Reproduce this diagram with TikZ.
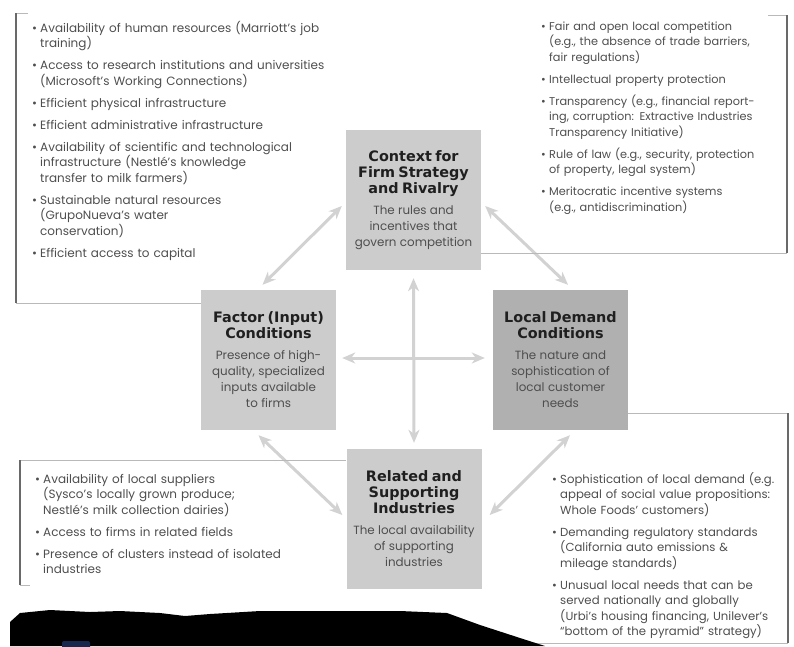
\documentclass[tikz,border=0pt]{standalone}
\usepackage{fontspec}
\setmainfont{Poppins}
\newfontfamily\headfont{DejaVu Sans}
\definecolor{boxgray}{RGB}{204,204,204}
\definecolor{boxdark}{RGB}{176,176,176}
\definecolor{arrowgray}{RGB}{210,210,210}
\definecolor{textgray}{RGB}{78,78,78}
\definecolor{framegray}{RGB}{105,105,105}
\definecolor{rulegray}{RGB}{185,185,185}
\definecolor{scanblue}{RGB}{22,40,78}
\usetikzlibrary{calc}
\usetikzlibrary{positioning}
\usetikzlibrary{arrows.meta}

\newcommand{\boxtitle}{\headfont\bfseries\fontsize{14.4}{16}\selectfont\color{black!88}}
\newcommand{\boxbody}{\fontsize{11.9}{16}\selectfont\color{textgray}}
\newcommand{\litem}[1]{\par\hangindent=8pt\hangafter=1\noindent\makebox[8pt][l]{\textbullet}#1\par}

\tikzset{
  forcebox/.style={fill=boxgray, minimum width=135pt, minimum height=140pt,
    text width=132pt, align=center, inner sep=0pt},
  bulletlist/.style={anchor=north west, inner sep=0pt, text width=#1, align=left,
    font=\fontsize{12}{15.5}\selectfont\setlength{\parskip}{6.5pt}, text=textgray},
  twoway/.style={{Stealth[length=13pt,width=11pt,inset=4pt]}-{Stealth[length=13pt,width=11pt,inset=4pt]},
    line width=3pt, draw=arrowgray},
  sideline/.style={draw=framegray, line width=2pt},
  thinline/.style={draw=rulegray, line width=0.8pt},
}

\begin{document}
\begin{tikzpicture}[x=1pt, y=-1pt]
  \useasboundingbox (0,0) rectangle (794,646);

  % the four conditions
  \node [forcebox] (context) at (413.5,200) {{\boxtitle Context for\\Firm Strategy\\and Rivalry\par}\vspace{5pt}
    {\boxbody The rules and\\incentives that\\govern competition\par}};
  \node [forcebox] (factor) at (268.5,360) {{\boxtitle Factor (Input)\\Conditions\par}\vspace{5pt}
    {\boxbody Presence of high-\\quality, specialized\\inputs available\\to firms\par}};
  \node [forcebox, fill=boxdark] (local) at (560.5,360) {{\boxtitle Local Demand\\Conditions\par}\vspace{5pt}
    {\boxbody The nature and\\sophistication of\\local customer\\needs\par}};
  \node [forcebox] (related) at (414,519) {{\boxtitle Related and\\Supporting\\Industries\par}\vspace{5pt}
    {\boxbody The local availability\\of supporting\\industries\par}};

  \draw [twoway] ($(factor.north)+(-6,-5)$) -- ($(context.west)+(-4,6)$);
  \draw [twoway] ($(context.east)+(4,6)$) -- ($(local.north)+(7.5,-5)$);
  \draw [twoway] ($(context.south)+(0,8)$) -- ($(related.north)+(0,-6)$);
  \draw [twoway] ($(factor.east)+(6,-2)$) -- ($(local.west)+(-8,-2)$);
  \draw [twoway] ($(factor.south)+(-10,5)$) -- ($(related.west)+(-4,-4)$);
  \draw [twoway] ($(related.east)+(8,-4)$) -- ($(local.south)+(9.5,5)$);

  % callouts
  \coordinate (tltop) at (16,13);
  \coordinate (tlbottom) at (16,303);
  \coordinate (trtop) at (787,15);
  \coordinate (trbottom) at (787,253);
  \coordinate (bltop) at (20,460);
  \coordinate (blbottom) at (20,585);
  \coordinate (brtop) at (788,413);
  \coordinate (brbottom) at (788,643);

  \draw [thinline] (tltop) -- ++(12,0);
  \draw [thinline] (tlbottom) -- (tlbottom -| factor.west);
  \draw [sideline] (tltop) -- (tlbottom);
  \draw [thinline] (trtop) -- ++(-19,0);
  \draw [thinline] (trbottom) -- (trbottom -| context.east);
  \draw [sideline] (trtop) -- (trbottom);
  \draw [thinline] (bltop) -- (bltop -| related.west);
  \draw [thinline] (blbottom) -- ++(10,0);
  \draw [sideline] (bltop) -- (blbottom);
  \draw [thinline] (brtop) -- (brtop -| local.east);
  \draw [thinline] (brbottom) -- ++(-272,0);
  \draw [sideline] (brtop) -- (brbottom);

  \node [bulletlist=330pt] (factorlist) at (32,10) {%
    \litem{Availability of human resources (Marriott's job\newline training)}
    \litem{Access to research institutions and universities\newline (Microsoft's Working Connections)}
    \litem{Efficient physical infrastructure}
    \litem{Efficient administrative infrastructure}
    \litem{Availability of scientific and technological\newline infrastructure (Nestlé's knowledge\newline transfer to milk farmers)}
    \litem{Sustainable natural resources\newline (GrupoNueva's water\newline conservation)}
    \litem{Efficient access to capital}};
  \node [bulletlist=250pt, font=\fontsize{11.3}{15.5}\selectfont\setlength{\parskip}{6.5pt}] (contextlist) at (541,8) {%
    \litem{Fair and open local competition\newline (e.g., the absence of trade barriers,\newline fair regulations)}
    \litem{Intellectual property protection}
    \litem{Transparency (e.g., financial report-\newline ing, corruption: Extractive Industries\newline Transparency Initiative)}
    \litem{Rule of law (e.g., security, protection\newline of property, legal system)}
    \litem{Meritocratic incentive systems\newline (e.g., antidiscrimination)}};
  \node [bulletlist=300pt] (relatedlist) at (35,461) {%
    \litem{Availability of local suppliers\newline (Sysco's locally grown produce;\newline Nestlé's milk collection dairies)}
    \litem{Access to firms in related fields}
    \litem{Presence of clusters instead of isolated\newline industries}};
  \node [bulletlist=250pt, font=\fontsize{11.7}{15.5}\selectfont\setlength{\parskip}{6.5pt}] (locallist) at (552,461) {%
    \litem{Sophistication of local demand (e.g.\newline appeal of social value propositions:\newline Whole Foods' customers)}
    \litem{Demanding regulatory standards\newline (California auto emissions \&\newline mileage standards)}
    \litem{Unusual local needs that can be\newline served nationally and globally\newline (Urbi's housing financing, Unilever's\newline ``bottom of the pyramid'' strategy)}};

  % scan edge
  \fill [black] (10,646) -- (10,622) -- (20,613) -- (50,610) -- (90,612) -- (120,611) -- (160,613)
    -- (185,616) -- (210,614) -- (260,611) -- (330,611) -- (400,611) -- (447,613) -- (480,625)
    -- (520,638) -- (545,646) -- cycle;
  \fill [scanblue, rounded corners=2pt] (62,641) rectangle (90,650);

\end{tikzpicture}
\end{document}
